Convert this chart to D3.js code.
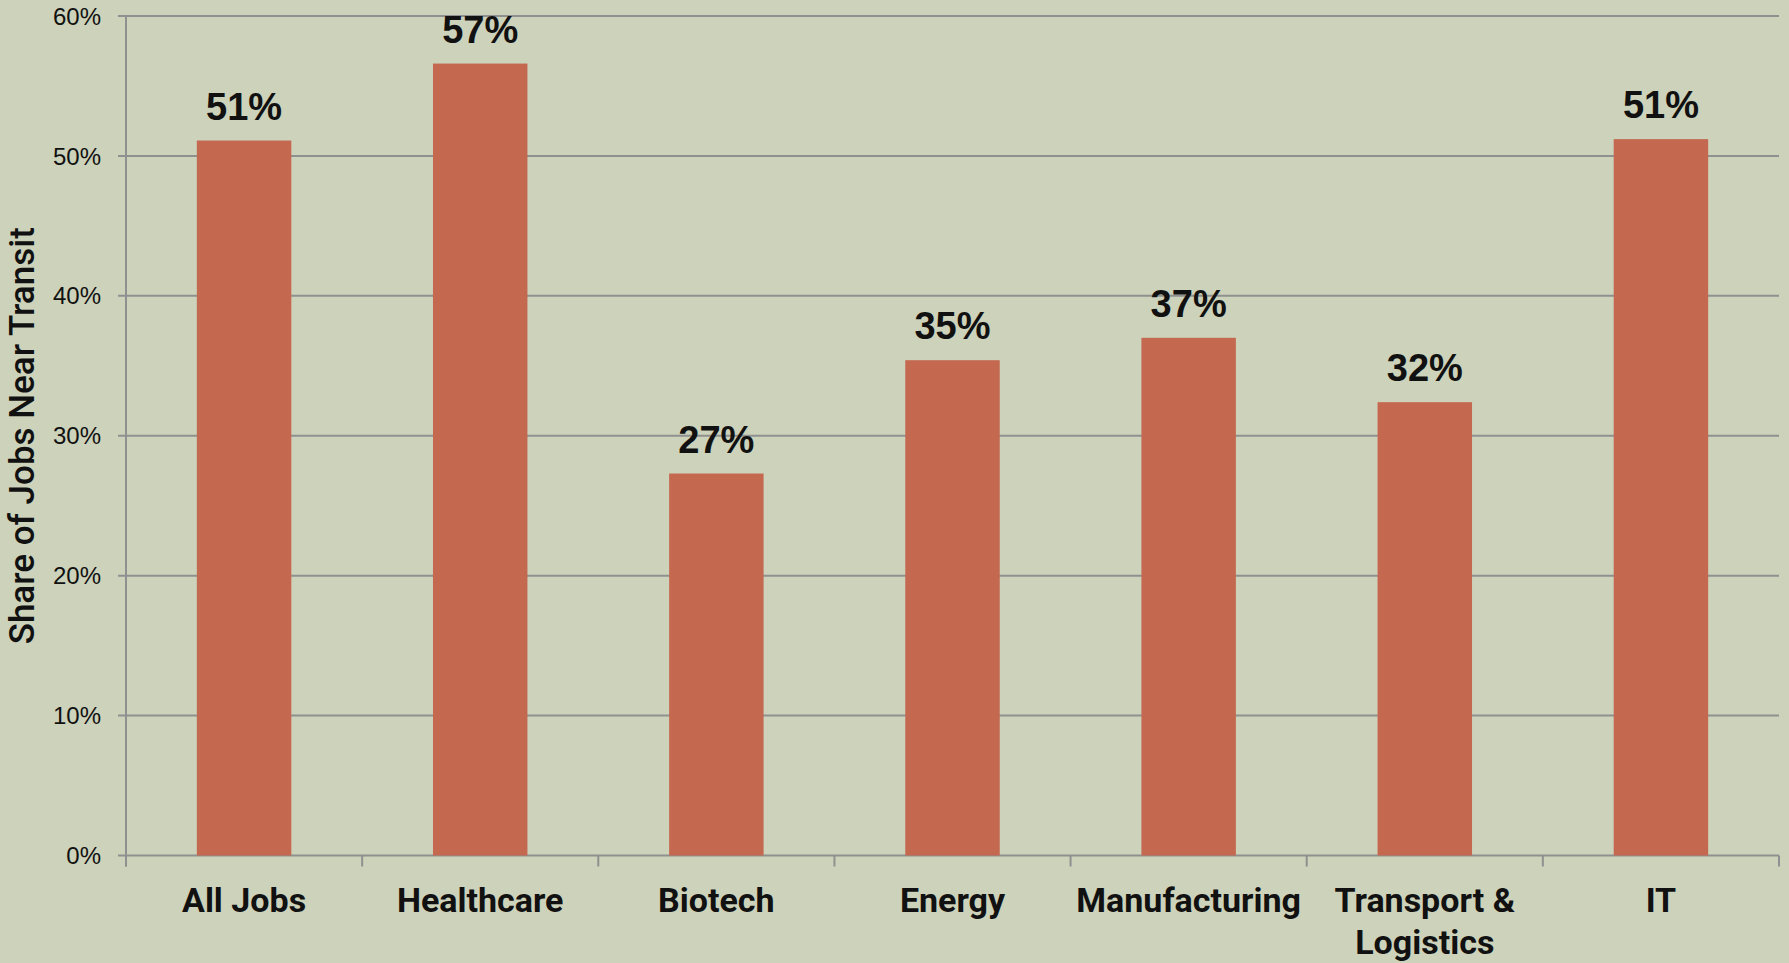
<!DOCTYPE html>
<html lang="en">
<head>
<meta charset="utf-8">
<style>
  body { margin: 0; background: #cdd2ba; }
  svg { display: block; }
  .grid line { stroke: #8f9190; stroke-width: 2px; }
  .tick-label { font-family: "Liberation Sans", Arial, sans-serif; font-size: 24px; fill: #111; }
  .cat { font-family: Roboto, "Liberation Sans", sans-serif; font-size: 34px; font-weight: bold; fill: #111; }
  .val { font-family: "Liberation Sans", Arial, sans-serif; font-size: 38px; font-weight: bold; fill: #111; }
  .ytitle { font-family: Roboto, "Liberation Sans", sans-serif; font-size: 35px; font-weight: 500; fill: #111; }
</style>
</head>
<body>
<svg width="1789" height="963"></svg>
<script src="https://d3js.org/d3.v7.min.js"></script>
<script>
var categories = ["All Jobs", "Healthcare", "Biotech", "Energy", "Manufacturing", "Transport & Logistics", "IT"];
var shares = [0.511, 0.566, 0.273, 0.354, 0.370, 0.324, 0.512];
var yTicks = [0, 0.1, 0.2, 0.3, 0.4, 0.5, 0.6];

var svg = d3.select("svg");
var plotLeft = 126, plotRight = 1779, plotTop = 16, plotBottom = 855.5;

var x = d3.scaleBand()
    .domain(categories)
    .range([plotLeft, plotRight])
    .paddingInner(0.6)
    .paddingOuter(0.3);

var y = d3.scaleLinear()
    .domain([0, 0.6])
    .range([plotBottom, plotTop]);

// gridlines
svg.append("g").attr("class", "grid")
    .selectAll("line")
    .data(yTicks)
    .enter().append("line")
    .attr("x1", plotLeft - 8)
    .attr("x2", plotRight)
    .attr("y1", function(d) { return y(d); })
    .attr("y2", function(d) { return y(d); });

// y tick labels
svg.append("g")
    .selectAll("text")
    .data(yTicks)
    .enter().append("text")
    .attr("class", "tick-label")
    .attr("x", plotLeft - 25)
    .attr("y", function(d) { return y(d); })
    .attr("dy", "0.36em")
    .attr("text-anchor", "end")
    .text(d3.format(".0%"));

// bars
svg.append("g")
    .selectAll("rect")
    .data(categories)
    .enter().append("rect")
    .attr("x", function(d) { return x(d); })
    .attr("width", x.bandwidth())
    .attr("y", function(d, i) { return y(shares[i]); })
    .attr("height", function(d, i) { return plotBottom - y(shares[i]); })
    .attr("fill", "#c56850");

// axes lines
var axis = svg.append("g").attr("class", "grid");
axis.append("line")
    .attr("x1", plotLeft).attr("x2", plotLeft)
    .attr("y1", plotTop).attr("y2", plotBottom + 11);
var bounds = categories.map(function(c) { return x(c) + x.bandwidth() / 2 - x.step() / 2; });
bounds.push(plotRight);
axis.selectAll(".xt")
    .data(bounds)
    .enter().append("line")
    .attr("class", "xt")
    .attr("x1", function(d) { return d; })
    .attr("x2", function(d) { return d; })
    .attr("y1", plotBottom)
    .attr("y2", plotBottom + 11);

// value labels
svg.append("g")
    .selectAll("text")
    .data(categories)
    .enter().append("text")
    .attr("class", "val")
    .attr("x", function(d) { return x(d) + x.bandwidth() / 2; })
    .attr("y", function(d, i) { return y(shares[i]) - 21; })
    .attr("text-anchor", "middle")
    .text(function(d, i) { return Math.round(shares[i] * 100) + "%"; });

// category labels (wrap "Transport & Logistics")
svg.append("g")
    .selectAll("text")
    .data(categories)
    .enter().append("text")
    .attr("class", "cat")
    .attr("text-anchor", "middle")
    .attr("x", function(d) { return x(d) + x.bandwidth() / 2; })
    .attr("y", 912)
    .each(function(d) {
        var lines = d === "Transport & Logistics" ? ["Transport &", "Logistics"] : [d];
        var t = d3.select(this);
        lines.forEach(function(l, i) {
            t.append("tspan")
                .attr("x", t.attr("x"))
                .attr("dy", i === 0 ? 0 : 42)
                .text(l);
        });
    });

// y title
svg.append("text")
    .attr("class", "ytitle")
    .attr("transform", "translate(34," + ((plotTop + plotBottom) / 2) + ") rotate(-90)")
    .attr("text-anchor", "middle")
    .text("Share of Jobs Near Transit");
</script>
</body>
</html>
